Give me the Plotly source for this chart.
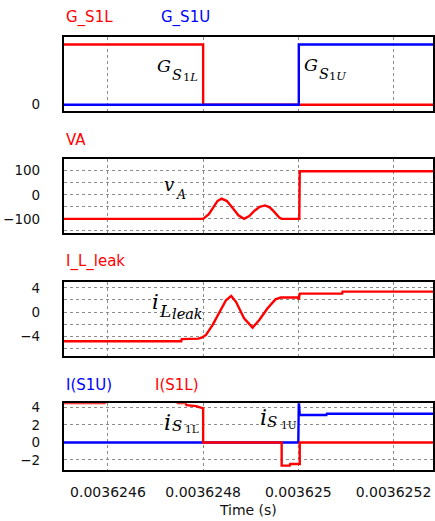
import plotly.graph_objects as go

# ---- time axis (s) ----
T_START = 0.003624507
T_END = 0.003625283
x_tickvals = [0.0036246, 0.0036248, 0.0036250, 0.0036252]
x_ticktext = ["0.0036246", "0.0036248", "0.003625", "0.0036252"]

# ---- gate signals ----
t_gl = [T_START, 0.0036248, 0.0036248, T_END]
g_s1l = [1, 1, 0, 0]
t_gu = [T_START, 0.003625001, 0.003625001, T_END]
g_s1u = [0, 0, 1, 1]

# ---- node voltage VA ----
t_va = [T_START, 0.0036248, 0.003624812, 0.003624821, 0.003624830, 0.003624839,
        0.003624850, 0.003624862, 0.003624874, 0.003624886, 0.003624897,
        0.003624908, 0.003624919, 0.003624930, 0.003624940, 0.003624950,
        0.003624960, 0.003624965, 0.003625002, 0.003625003, T_END]
va = [-100, -100, -80, -52, -26, -16, -26, -55, -85, -100, -88, -66, -50, -44,
      -52, -72, -94, -100, -100, 98, 98]

# ---- leakage inductor current ----
t_il = [T_START, 0.003624754, 0.003624755, 0.003624790, 0.003624798, 0.003624806,
        0.003624820, 0.003624834, 0.003624848, 0.003624859, 0.003624869,
        0.003624886, 0.003624904, 0.003624918, 0.003624935, 0.003624952,
        0.003624963, 0.003624998, 0.003625001, 0.003625003, 0.003625092,
        0.003625093, T_END]
i_leak = [-4.8, -4.8, -4.44, -4.35, -4.16, -3.74, -2.1, 0.06, 1.95, 2.67, 1.7,
          -1.0, -2.54, -1.3, 0.6, 2.1, 2.4, 2.4, 2.1, 3.04, 3.04, 3.37, 3.37]

# ---- switch currents ----
t_s1l = [T_START, 0.003624593, 0.003624600, 0.003624740, 0.003624747, 0.003624763,
         0.003624765, 0.003624785, 0.003624800, 0.003624800, 0.003624965,
         0.003624965, 0.003624982, 0.003624983, 0.003625003, 0.003625003, T_END]
i_s1l = [4.5, 4.5, 4.8, 4.8, 4.5, 4.5, 4.26, 4.15, 3.9, 0, 0, -2.65, -2.65,
         -2.46, -2.46, 0, 0]
t_s1u = [T_START, 0.0036250, 0.003625001, 0.003625003, 0.003625059,
         0.003625060, T_END]
i_s1u = [0, 0, 4.8, 3.13, 3.13, 3.28, 3.28]

RED = "#ff0000"
BLUE = "#0000ff"
LW = 2.4

fig = go.Figure()


def add(x, y, color, ax):
    fig.add_trace(go.Scatter(x=x, y=y, mode="lines", line=dict(color=color, width=LW),
                             xaxis="x" + ax, yaxis="y" + ax, showlegend=False,
                             hoverinfo="skip"))


add(t_gl, g_s1l, RED, "")
add(t_gu, g_s1u, BLUE, "")
add(t_va, va, RED, "2")
add(t_il, i_leak, RED, "3")
add(t_s1u, i_s1u, BLUE, "4")
add(t_s1l, i_s1l, RED, "4")

W, H = 435, 521


def ydom(top, bottom):
    return [1 - bottom / H, 1 - top / H]


GRID = "#8c8c8c"
TICKFONT = dict(family="DejaVu Sans", size=13.5, color="#111")

xcommon = dict(range=[T_START, T_END], tickvals=x_tickvals, ticktext=x_ticktext,
               showgrid=True, gridcolor=GRID, griddash="dot", gridwidth=1,
               showline=True, linecolor="black", linewidth=1.6, mirror=True,
               zeroline=False, ticks="", domain=[64 / W, 1.0])

ycommon = dict(showline=True, linecolor="black", linewidth=1.6, mirror=True,
               zeroline=False, ticks="", tickfont=TICKFONT, ticklabelstandoff=19,
               gridcolor=GRID, griddash="dot", gridwidth=1)

layout = dict(
    width=W, height=H, margin=dict(l=0, r=0, t=0, b=0),
    paper_bgcolor="white", plot_bgcolor="white", showlegend=False,
    xaxis=dict(xcommon, anchor="y", showticklabels=False),
    xaxis2=dict(xcommon, anchor="y2", showticklabels=False),
    xaxis3=dict(xcommon, anchor="y3", showticklabels=False),
    xaxis4=dict(xcommon, anchor="y4", showticklabels=True,
                tickfont=dict(family="DejaVu Sans", size=14, color="#111"),
                ticklabelstandoff=9,
                title=dict(text="Time (s)", standoff=6,
                           font=dict(family="DejaVu Sans", size=14, color="#111"))),
    yaxis=dict(ycommon, anchor="x", domain=ydom(33, 108), range=[-0.1, 1.13],
               tickvals=[0], showgrid=False),
    yaxis2=dict(ycommon, anchor="x2", domain=ydom(157, 232), range=[-160, 148],
                tickvals=[-100, 0, 100], showgrid=True,
                minor=dict(tickvals=[-150, -50, 50], showgrid=True, gridcolor=GRID,
                           griddash="dot", gridwidth=1, ticks="")),
    yaxis3=dict(ycommon, anchor="x3", domain=ydom(281, 356), range=[-7.2, 5.0],
                tickvals=[-4, 0, 4], showgrid=True,
                minor=dict(tickvals=[-6, -2, 2], showgrid=True, gridcolor=GRID,
                           griddash="dot", gridwidth=1, ticks="")),
    yaxis4=dict(ycommon, anchor="x4", domain=ydom(404, 471), range=[-3.1, 4.47],
                tickvals=[-2, 0, 2, 4], showgrid=True),
)
fig.update_layout(**layout)

# ---- trace names above each panel ----
TITLEFONT = "DejaVu Sans"
titles = [("G_S1L", 64, 14, RED), ("G_S1U", 160, 14, BLUE), ("VA", 64, 138, RED),
          ("I_L_leak", 64, 261, RED), ("I(S1U)", 64, 385, BLUE),
          ("I(S1L)", 154, 385, RED)]
for txt, px, py, col in titles:
    fig.add_annotation(text=txt, x=px / W, y=1 - py / H, xref="paper", yref="paper",
                       xanchor="left", yanchor="middle", showarrow=False,
                       font=dict(family=TITLEFONT, size=15, color=col))

# ---- symbol labels on the waveforms ----
# each symbol is built from pieces: (text, font size, left px, baseline px)
MATH = "DejaVu Serif"


def piece(txt, size, left, baseline):
    # middle of the text box sits about 0.35 em above the baseline
    cy = baseline - 0.35 * size
    fig.add_annotation(text=txt, x=left / W, y=1 - cy / H, xref="paper", yref="paper",
                       xanchor="left", yanchor="middle", showarrow=False,
                       borderpad=0, font=dict(family=MATH, size=size, color="black"))


symbols = [
    [("<i>G</i>", 17.5, 157, 68.5), ("<i>S</i>", 14.5, 172, 76.5),
     ("1<i>L</i>", 11.5, 183, 77.5)],
    [("<i>G</i>", 17.5, 304, 67.5), ("<i>S</i>", 14.5, 319, 75.7),
     ("1<i>U</i>", 11.5, 330, 77.3)],
    [("<i>v</i>", 18, 164, 188.5), ("<i>A</i>", 12.5, 176, 197.5)],
    [("<i>i</i>", 21, 152, 309), ("<i>L</i>", 17, 159, 316.7),
     ("<i>leak</i>", 14.5, 172, 318.5)],
    [("<i>i</i>", 22, 164, 431), ("<i>S</i>", 15, 171.5, 432.5),
     ("1L", 10.5, 185, 433.5)],
    [("<i>i</i>", 22, 260, 426), ("<i>S</i>", 15, 267, 428.5),
     ("1U", 10.5, 281, 430)],
]
for parts in symbols:
    for txt, size, left, base in parts:
        piece(txt, size, left, base)

fig.write_html("out.html")
